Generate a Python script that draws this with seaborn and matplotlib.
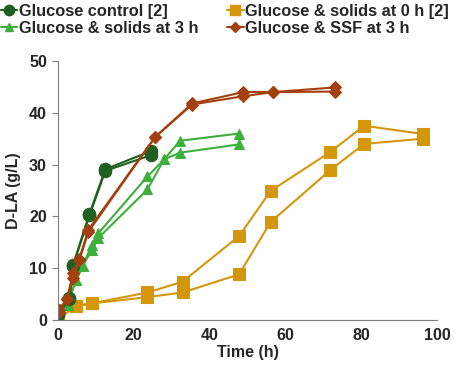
import matplotlib
matplotlib.use("Agg")
import matplotlib.pyplot as plt
import numpy as np
import pandas as pd
import seaborn as sns

# Series names (legend text)
ctrl = "Glucose control [2]"
sol0 = "Glucose & solids at 0 h [2]"
sol3 = "Glucose & solids at 3 h"
ssf3 = "Glucose & SSF at 3 h"

# Glucose control, two replicates
ctrl_t = [0, 3, 4, 8.3, 12.5, 24.5]
ctrl_a = [1.0, 4.2, 10.7, 20.5, 29.1, 32.6]
ctrl_b = [1.2, 4.0, 10.5, 20.2, 28.8, 31.8]

# Glucose & solids at 0 h, two replicates
sol0_t = [0, 4.75, 9, 23.6, 32.9, 47.8, 56.1, 71.8, 80.8, 96.4]
sol0_a = [2.0, 2.7, 3.2, 5.3, 7.4, 16.2, 24.9, 32.4, 37.5, 35.9]
sol0_b = [0.1, 2.7, 3.2, 4.4, 5.3, 8.8, 18.9, 28.9, 34.0, 35.0]

# Glucose & solids at 3 h, two replicates
sol3_t = [0, 2.5, 4.75, 6.5, 8.9, 10.6, 23.6, 28.0, 32.2, 47.8]
sol3_a = [0.8, 3.0, 7.7, 10.4, 14.5, 16.7, 27.7, 31.0, 34.6, 36.0]
sol3_b = [0.5, 2.8, 7.7, 10.4, 13.5, 15.8, 25.2, 31.0, 32.3, 33.9]

# Glucose & SSF at 3 h, two replicates
ssf3_t = [0.3, 2.3, 4.0, 5.6, 8.0, 25.6, 35.4, 48.9, 56.8, 73.1]
ssf3_a = [1.9, 4.0, 9.0, 11.8, 17.4, 35.3, 41.8, 44.0, 44.0, 44.9]
ssf3_b = [1.6, 4.0, 8.0, 11.5, 17.0, 35.3, 41.6, 43.2, 44.0, 44.1]

rows = []
for name, t, reps in [(ctrl, ctrl_t, [ctrl_a, ctrl_b]),
                      (sol0, sol0_t, [sol0_a, sol0_b]),
                      (sol3, sol3_t, [sol3_a, sol3_b]),
                      (ssf3, ssf3_t, [ssf3_a, ssf3_b])]:
    for r, vals in enumerate(reps):
        for x, y in zip(t, vals):
            rows.append({"cond": name, "rep": r, "time": x, "dla": y})
df = pd.DataFrame(rows)

colors = {ctrl: "#1F5F1F", sol0: "#D4960A", sol3: "#3DAF3A", ssf3: "#A3400F"}
markers = {ctrl: "o", sol0: "s", sol3: "^", ssf3: "D"}
sizes = {ctrl: 9, sol0: 8, sol3: 7, ssf3: 6.5}

sns.set_style("white")
plt.rcParams["font.family"] = ["Liberation Sans", "DejaVu Sans"]
plt.rcParams["font.weight"] = "bold"

fig = plt.figure(figsize=(4.57, 3.72), dpi=100)
ax = fig.add_axes([0.127, 0.140, 0.829, 0.696])

for name in [sol0, sol3, ctrl, ssf3]:
    sub = df[df["cond"] == name]
    sns.lineplot(data=sub, x="time", y="dla", units="rep", estimator=None,
                 color=colors[name], marker=markers[name], markersize=sizes[name],
                 markeredgecolor=colors[name], linewidth=1.5, ax=ax, legend=False)

ax.set_xlim(0, 100)
ax.set_ylim(0, 50)
ax.set_xticks([0, 20, 40, 60, 80, 100])
ax.set_yticks([0, 10, 20, 30, 40, 50])
ax.tick_params(axis="both", labelsize=11.5)
ax.tick_params(axis="x", length=0, pad=6)
ax.tick_params(axis="y", length=4, color="#808080", direction="out", left=True, pad=4)
for lab in ax.get_xticklabels() + ax.get_yticklabels():
    lab.set_fontweight("bold")
ax.set_xlabel("Time (h)", fontsize=11.5, fontweight="bold", labelpad=1)
ax.set_ylabel("D-LA (g/L)", fontsize=11.5, fontweight="bold", labelpad=6)
sns.despine(ax=ax)
ax.spines["left"].set_color("#808080")
ax.spines["bottom"].set_color("#808080")

handles = []
order = [ctrl, sol3, sol0, ssf3]
for name in order:
    h, = ax.plot([], [], color=colors[name], marker=markers[name],
                 markersize=sizes[name] - 1.5, linewidth=1.5)
    handles.append(h)
fig.legend(handles, order, loc="upper left", bbox_to_anchor=(-0.03, 1.03),
           ncol=2, frameon=False, handlelength=1.0, handletextpad=0.1,
           columnspacing=1.75, labelspacing=0.12,
           prop={"size": 11.8, "weight": "bold"})

fig.savefig("out.png", dpi=100)
